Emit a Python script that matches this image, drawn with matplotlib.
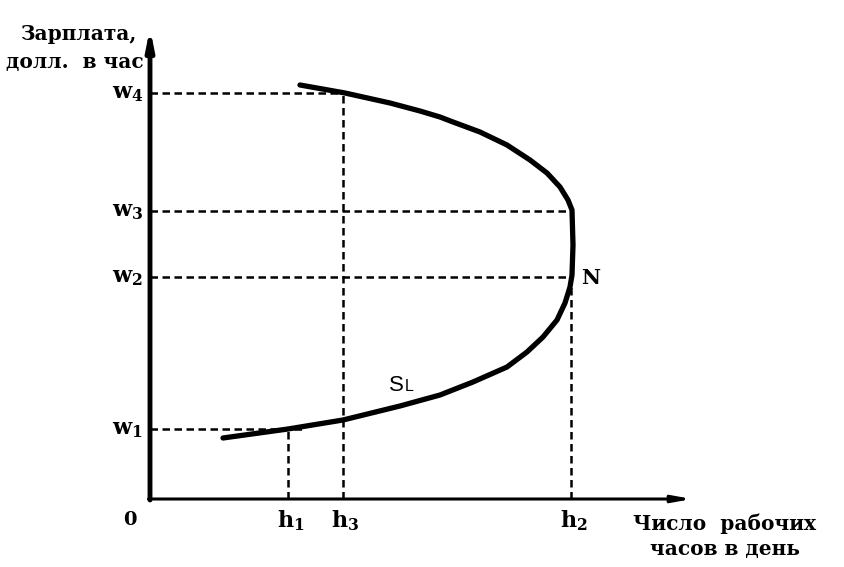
import matplotlib
matplotlib.use("Agg")
import matplotlib.pyplot as plt

plt.rcParams.update({
    "mathtext.fontset": "custom",
    "mathtext.rm": "DejaVu Serif:bold",
    "mathtext.it": "DejaVu Serif:bold",
    "mathtext.bf": "DejaVu Serif:bold",
})

# Labour supply curve S_L (hours per day vs hourly wage)
hours = [1.46, 2.76, 3.86, 5.00, 5.80, 6.46, 7.14, 7.54, 7.86, 8.14, 8.30, 8.40,
         8.44, 8.46, 8.44, 8.36, 8.20, 7.94, 7.60, 7.14, 6.60, 6.06, 5.80, 5.40,
         4.80, 3.90, 3.00]
wage = [1.22, 1.40, 1.58, 1.86, 2.08, 2.34, 2.64, 2.94, 3.24, 3.58, 3.92, 4.24,
        4.48, 5.08, 5.78, 5.98, 6.24, 6.52, 6.78, 7.08, 7.34, 7.54, 7.64, 7.76,
        7.92, 8.12, 8.28]

w_labels = ["$w_1$", "$w_2$", "$w_3$", "$w_4$"]
w_values = [1.40, 4.44, 5.76, 8.12]
w_ends = [3.1, 8.42, 8.46, 3.86]          # where each horizontal guide ends

h_labels = ["$h_1$", "$h_3$", "$h_2$"]
h_values = [2.76, 3.86, 8.42]
h_tops = [1.40, 8.12, 4.44]

fig = plt.figure(figsize=(8.44, 5.67), dpi=100)
ax = fig.add_axes([0, 0, 1, 1])
ax.set_xlim(-3.0, 13.88)
ax.set_ylim(-1.36, 9.98)
ax.axis("off")

serif = ["DejaVu Serif"]

# axes with arrows
ax.annotate("", xy=(0, 9.42), xytext=(0, -0.02),
            arrowprops=dict(arrowstyle="-|>,head_width=0.22,head_length=1.1",
                            lw=3.5, color="black", shrinkA=0, shrinkB=0))
ax.annotate("", xy=(10.84, 0), xytext=(-0.03, 0),
            arrowprops=dict(arrowstyle="-|>,head_width=0.2,head_length=1.1",
                            lw=2.2, color="black", shrinkA=0, shrinkB=0))

# guides
for v, e in zip(w_values, w_ends):
    ax.plot([0, e], [v, v], ls=(0, (3, 1.8)), lw=1.8, color="black")
for v, t in zip(h_values, h_tops):
    ax.plot([v, v], [0, t], ls=(0, (3, 1.8)), lw=1.8, color="black")

# curve
ax.plot(hours, wage, lw=3.8, color="black", solid_capstyle="round",
        solid_joinstyle="round")

# labels
for lab, v in zip(w_labels, w_values):
    ax.text(-0.14, v, lab, ha="right", va="center", fontsize=16,
            family=serif)
for lab, v in zip(h_labels, h_values):
    ax.text(v + 0.05, -0.44, lab, ha="center", va="center", fontsize=16,
            family=serif)
ax.text(-0.4, -0.42, "0", ha="center", va="center", fontsize=14,
        fontweight="bold", family=serif)

ax.text(-1.44, 9.3, "Зарплата,", ha="center", va="center", fontsize=14.5,
        fontweight="bold", family=serif)
ax.text(-1.5, 8.74, "долл.  в час", ha="center", va="center", fontsize=14.5,
        fontweight="bold", family=serif)
ax.text(11.5, -0.5, "Число  рабочих", ha="center", va="center", fontsize=14.5,
        fontweight="bold", family=serif)
ax.text(11.5, -0.99, "часов в день", ha="center", va="center", fontsize=14.5,
        fontweight="bold", family=serif)
ax.text(8.82, 4.42, "N", ha="center", va="center", fontsize=15,
        fontweight="bold", family=serif)
ax.text(4.78, 2.16, "S", ha="left", va="baseline", fontsize=16,
        family=["Liberation Sans", "DejaVu Sans"])
ax.text(5.10, 2.16, "L", ha="left", va="baseline", fontsize=11.5,
        family=["Liberation Sans", "DejaVu Sans"])

fig.savefig("out.png", dpi=100)
